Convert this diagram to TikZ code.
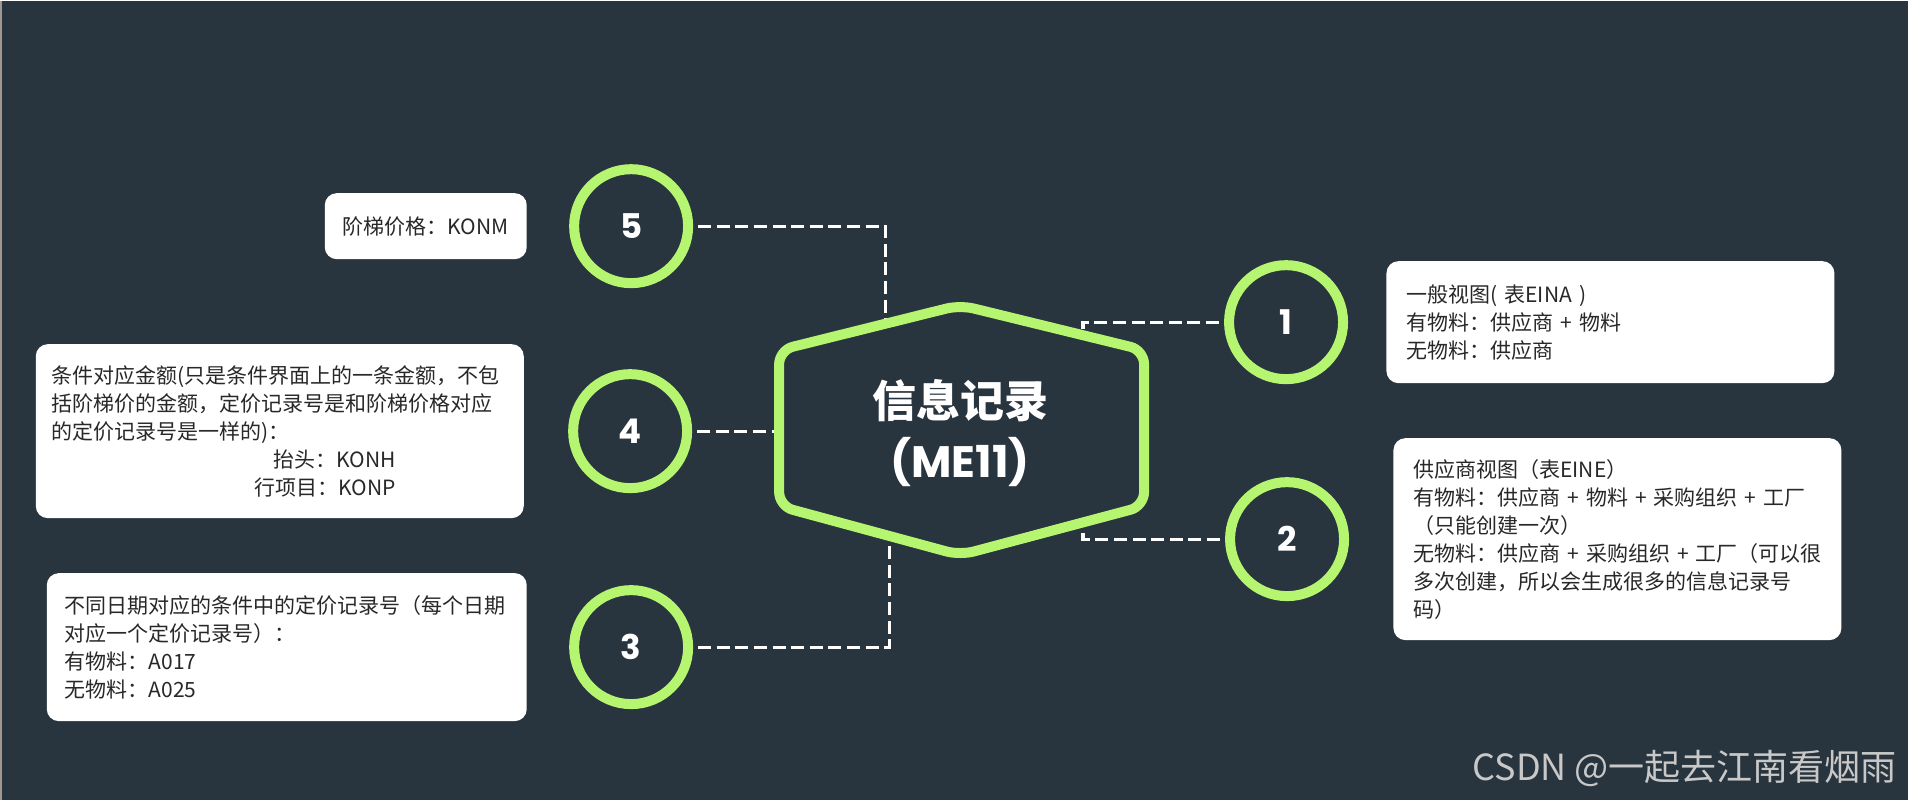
\documentclass[tikz,border=0pt]{standalone}
\usepackage{fontspec}
\usepackage{xcolor}
\usepackage{tikz}
\usetikzlibrary{positioning}
\newfontfamily\cjk{Noto Sans CJK SC}
\newfontfamily\popfont{Poppins}
\definecolor{bgslate}{RGB}{40,52,62}
\definecolor{limegreen}{RGB}{181,245,111}
\definecolor{boxtext}{RGB}{40,40,40}
\definecolor{markgray}{RGB}{200,200,200}
\definecolor{edgegray}{RGB}{160,152,144}

\begin{document}
\begin{tikzpicture}[x=0.5pt, y=-0.5pt,
    ring/.style={draw=limegreen, line width=5pt, circle, minimum size=57pt, inner sep=0pt,
                fill=bgslate, text=white, font=\popfont\bfseries\fontsize{17}{17}\selectfont},
    infobox/.style={fill=white, rounded corners=6pt, inner xsep=8pt, inner ysep=0pt,
                align=left, text=boxtext, font=\cjk\fontsize{10.5}{14}\selectfont},
    link/.style={draw=white, line width=1.6pt, dash pattern=on 6.5pt off 2.8pt, shorten <=2.5pt},
    hexline/.style={draw=limegreen, line width=5pt, rounded corners=7pt, line join=round}]

  \fill[bgslate] (0,0) rectangle (1908,799);
  \draw[edgegray, line width=1.2pt] (1,0) -- (1,799);

  % hexagon corners
  \coordinate (hextop) at (960,304);
  \coordinate (hexur) at (1144,349);
  \coordinate (hexlr) at (1144,505);
  \coordinate (hexbot) at (960,554);
  \coordinate (hexll) at (779,505);
  \coordinate (hexul) at (779,349);

  % ends of the connectors on the hexagon
  \coordinate (h5) at (885,323);
  \coordinate (h4) at (779,430);
  \coordinate (h3) at (889,535);
  \coordinate (h1) at (1083,334);
  \coordinate (h2) at (1083,521);

  \node[ring] (c5) at (631,225) {5};
  \node[ring] (c4) at (630,430) {4};
  \node[ring] (c3) at (631,646) {3};
  \node[ring] (c1) at (1286,321) {1};
  \node[ring] (c2) at (1287,538) {2};

  \node[infobox, left=21pt of c5, align=center, text width=85pt, minimum height=33pt] (b5)
        {阶梯价格：KONM};
  \node[infobox, left=22pt of c4, text width=228pt, minimum height=87pt] (b4)
        {条件对应金额(只是条件界面上的一条金额，不包\\
         括阶梯价的金额，定价记录号是和阶梯价格对应\\
         的定价记录号是一样的)：\\
         \makebox[172pt][r]{抬头：KONH}\\
         \makebox[172pt][r]{行项目：KONP}};
  \node[infobox, left=21pt of c3, inner xsep=9pt, text width=222pt, minimum height=74pt] (b3)
        {不同日期对应的条件中的定价记录号（每个日期\\
         对应一个定价记录号）：\\
         有物料：A017\\
         无物料：A025};
  \node[infobox, right=19pt of c1, inner xsep=10pt, text width=204pt, minimum height=61pt] (b1)
        {一般视图( 表EINA )\\
         有物料：供应商 + 物料\\
         无物料：供应商};
  \node[infobox, right=22pt of c2, inner xsep=10pt, text width=204pt, minimum height=101pt] (b2)
        {供应商视图（表EINE）\\
         有物料：供应商 + 物料 + 采购组织 + 工厂\\
         （只能创建一次）\\
         \mbox{无物料：供应商 + 采购组织 + 工厂（可以很}\\
         多次创建，所以会生成很多的信息记录号\\
         码）};

  \draw[link] (c5) -| (h5);
  \draw[link] (c4) -- (h4);
  \draw[link] (c3) -| (h3);
  \draw[link] (c1) -| (h1);
  \draw[link] (c2) -| (h2);

  \draw[hexline, fill=bgslate] (hextop) -- (hexur) -- (hexlr) -- (hexbot) -- (hexll) -- (hexul) -- cycle;
  \node[align=center, text=white, font=\bfseries\fontsize{22}{30}\selectfont] (hub) at (960,432)
        {{\cjk 信息记录}\\{\popfont (ME11)}};

  \node[anchor=east, text=markgray, font=\cjk\fontsize{18}{18}\selectfont] (mark) at (1904,767)
        {CSDN @一起去江南看烟雨};
\end{tikzpicture}
\end{document}
